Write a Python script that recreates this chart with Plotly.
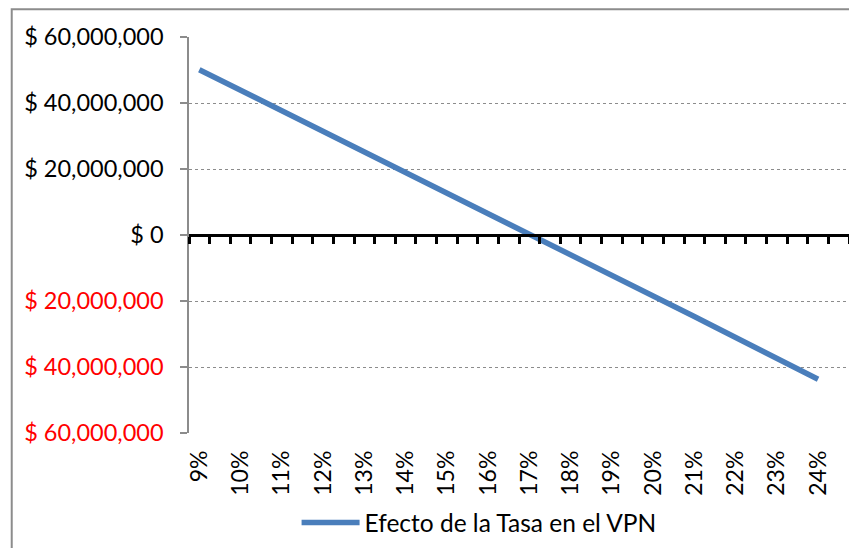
import plotly.graph_objects as go

# Data: discount rate (%) and NPV
rates = [9.0, 9.5, 10.0, 10.5, 11.0, 11.5, 12.0, 12.5, 13.0, 13.5, 14.0, 14.5,
         15.0, 15.5, 16.0, 16.5, 17.0, 17.5, 18.0, 18.5, 19.0, 19.5, 20.0, 20.5,
         21.0, 21.5, 22.0, 22.5, 23.0, 23.5, 24.0]
npv = [50.1e6, 47.0e6, 43.9e6, 40.8e6, 37.7e6, 34.6e6, 31.4e6, 28.3e6, 25.2e6,
       22.1e6, 18.9e6, 15.8e6, 12.7e6, 9.6e6, 6.5e6, 3.4e6, 0.4e6, -2.8e6,
       -5.9e6, -9.0e6, -12.2e6, -15.3e6, -18.4e6, -21.6e6, -24.7e6, -27.9e6,
       -31.1e6, -34.2e6, -37.4e6, -40.6e6, -43.7e6]
series_name = "Efecto de la Tasa en el VPN"

x_tick_vals = [9, 10, 11, 12, 13, 14, 15, 16, 17, 18, 19, 20, 21, 22, 23, 24]
x_tick_text = ["9%", "10%", "11%", "12%", "13%", "14%", "15%", "16%", "17%",
               "18%", "19%", "20%", "21%", "22%", "23%", "24%"]
y_tick_vals = [60e6, 40e6, 20e6, 0, -20e6, -40e6, -60e6]
y_tick_text = ["$ 60,000,000", "$ 40,000,000", "$ 20,000,000", "$ 0",
               "<span style='color:#FF0000'>$ 20,000,000</span>",
               "<span style='color:#FF0000'>$ 40,000,000</span>",
               "<span style='color:#FF0000'>$ 60,000,000</span>"]

FONT = "Lato, Carlito, Calibri, sans-serif"
x_range = [8.75, 24.75]

fig = go.Figure()
fig.add_trace(go.Scatter(
    x=rates, y=npv, mode="lines", name=series_name,
    line=dict(color="#4A7EBB", width=5.5),
    showlegend=True,
))
# transparent copy so the zero-line axis (x2) gets rendered
fig.add_trace(go.Scatter(
    x=rates, y=npv, mode="lines", xaxis="x2", yaxis="y",
    line=dict(color="rgba(0,0,0,0)", width=0), opacity=0,
    showlegend=False, hoverinfo="skip",
))

fig.update_layout(
    width=849, height=540,
    margin=dict(l=181.3, r=7.5, t=28.7, b=114.7, autoexpand=False),
    paper_bgcolor="white", plot_bgcolor="white",
    font=dict(family=FONT, size=23, color="black"),
    showlegend=True,
    legend=dict(orientation="h", x=0.163, xanchor="left", y=-0.226, yanchor="middle",
                font=dict(family=FONT, size=24.5, color="black"),
                bgcolor="rgba(0,0,0,0)", itemwidth=58),
    xaxis=dict(
        range=x_range, tickmode="array", tickvals=x_tick_vals, ticktext=x_tick_text,
        tickangle=-90, showgrid=False, showline=False, zeroline=False, ticks="",
        ticklen=0, ticklabelstandoff=12, automargin=False,
        tickfont=dict(family=FONT, size=23, color="black"),
    ),
    xaxis2=dict(
        range=x_range, overlaying="x", anchor="free", position=0.5, side="bottom",
        showline=True, linecolor="black", linewidth=3,
        ticks="outside", ticklen=7, tickwidth=3, tickcolor="black",
        tickmode="linear", tick0=8.75, dtick=0.5,
        showticklabels=False, showgrid=False, zeroline=False, automargin=False,
    ),
    yaxis=dict(
        range=[-60e6, 60e6], tickmode="array", tickvals=y_tick_vals, ticktext=y_tick_text,
        showgrid=True, gridcolor="#8C8C8C", gridwidth=1, griddash="dot",
        showline=True, linecolor="#8C8C8C", linewidth=1.5,
        ticks="outside", ticklen=7, tickwidth=1.5, tickcolor="#8C8C8C",
        zeroline=False, ticklabelstandoff=12, automargin=False,
        tickfont=dict(family=FONT, size=23.5, color="black"),
    ),
    shapes=[dict(type="rect", xref="paper", yref="paper",
                 x0=-0.2686, x1=1.2, y0=-0.5, y1=1.0699,
                 line=dict(color="#8C8C8C", width=2), fillcolor="rgba(0,0,0,0)",
                 layer="below")],
)

fig.write_html("out.html")
